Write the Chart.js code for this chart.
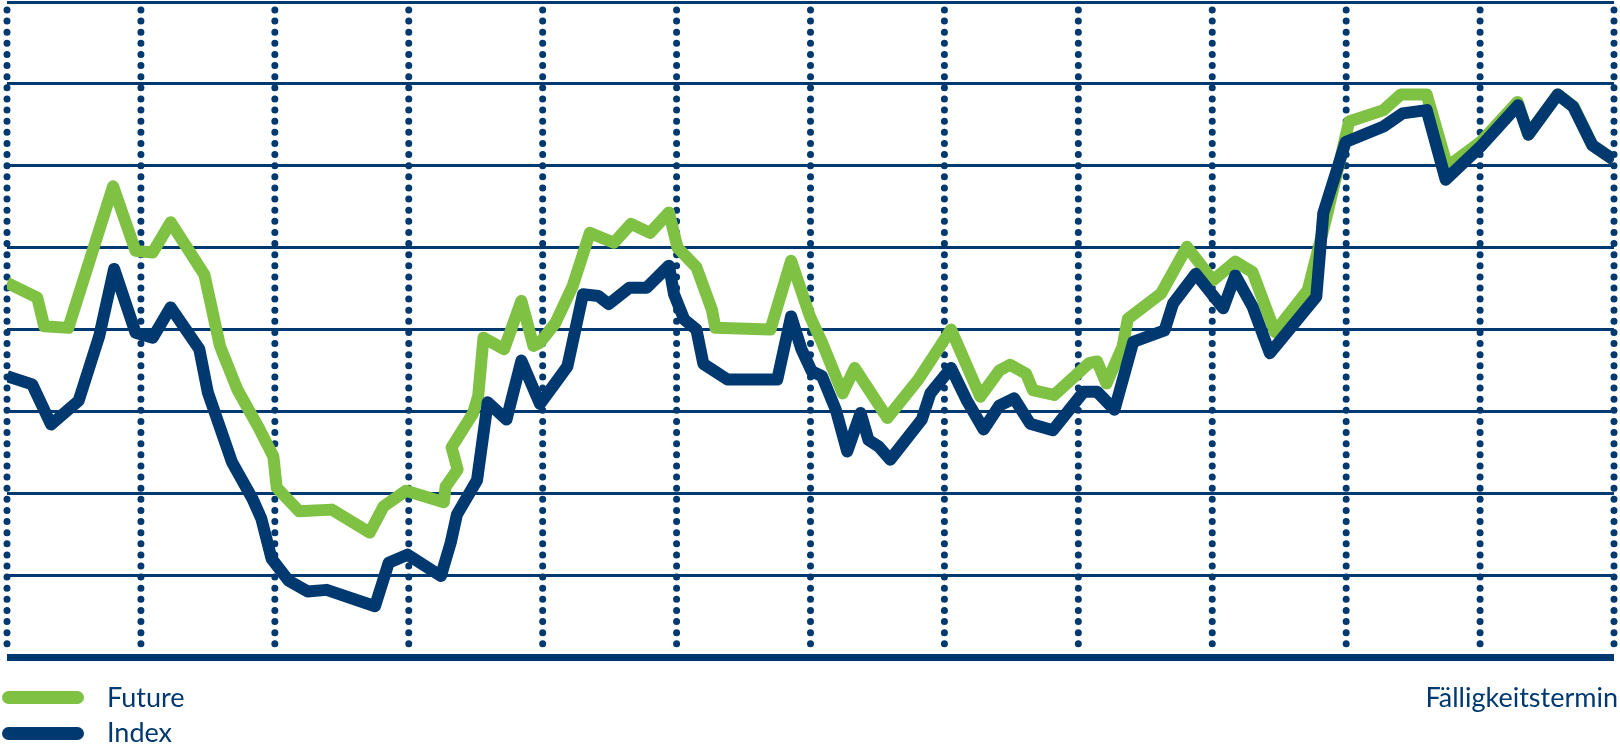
<!DOCTYPE html>
<html lang="de">
<head>
<meta charset="utf-8">
<title>Future / Index</title>
<script src="https://cdn.jsdelivr.net/npm/chart.js@4.4.1/dist/chart.umd.min.js"></script>
<style>
    html, body { margin: 0; padding: 0; background: #fff; overflow: hidden; }
    #wrap { position: relative; width: 1620px; height: 744px; }
    #chart { position: absolute; left: 0; top: 0; }
    .swatch { position: absolute; left: 2px; width: 82px; height: 13px; border-radius: 7px; }
    .label {
        position: absolute; font-family: Lato, "Open Sans", sans-serif; font-size: 27px;
        line-height: 27px; color: #003870; white-space: nowrap;
    }
</style>
</head>
<body>
<div id="wrap">
    <canvas id="chart" width="1620" height="744"></canvas>
    <div class="swatch" style="top:691px; background:#7ec143;"></div>
    <div class="swatch" style="top:727px; background:#003870;"></div>
    <div class="label" id="lblFuture" style="left:107px; top:683px;"></div>
    <div class="label" id="lblIndex" style="left:107px; top:718px;"></div>
    <div class="label" id="lblAxis" style="right:2px; top:683px;"></div>
</div>
<script>
const NAVY = '#003870';
const GREEN = '#7ec143';

// --- DATA (x = periods between dotted lines, y = grid units) ---
const seriesNames = ['Future', 'Index'];
const axisLabel = 'Fälligkeitstermin';

const futureT = [0, 0.226, 0.278, 0.458, 0.792, 0.96, 1.088, 1.222, 1.474, 1.59, 1.719, 1.873, 1.989, 2.014,
    2.182, 2.426, 2.709, 2.812, 2.979, 3.262, 3.275, 3.365, 3.32, 3.481, 3.519, 3.558, 3.712, 3.841, 3.931,
    3.98, 4.095, 4.224, 4.352, 4.532, 4.66, 4.802, 4.943, 5.007, 5.148, 5.264, 5.29, 5.701, 5.855, 5.996,
    6.086, 6.24, 6.33, 6.574, 6.805, 7.049, 7.268, 7.41, 7.49, 7.61, 7.66, 7.82, 8.08, 8.14, 8.21, 8.33, 8.37,
    8.618, 8.811, 9.005, 9.172, 9.301, 9.468, 9.713, 9.854, 10.022, 10.279, 10.408, 10.601, 10.756, 11.01,
    11.28, 11.36, 11.58, 11.70, 11.84, 12];
const futureV = [4.57, 4.39, 4.04, 4.02, 5.75, 4.96, 4.94, 5.31, 4.67, 3.80, 3.27, 2.82, 2.45, 2.07,
    1.78, 1.80, 1.52, 1.84, 2.03, 1.89, 2.08, 2.29, 2.56, 2.98, 3.19, 3.90, 3.76, 4.35, 3.80,
    3.84, 4.08, 4.53, 5.18, 5.06, 5.29, 5.18, 5.43, 5.00, 4.76, 4.24, 4.02, 4.00, 4.84, 4.16,
    3.84, 3.22, 3.53, 2.92, 3.39, 4.00, 3.18, 3.50, 3.57, 3.46, 3.26, 3.20, 3.59, 3.61, 3.34, 3.79, 4.13,
    4.44, 5.01, 4.60, 4.83, 4.70, 3.97, 4.48, 5.38, 6.54, 6.68, 6.87, 6.87, 5.99, 6.30,
    6.78, 6.38, 6.87, 6.72, 6.25, 6.07];

const indexT = [0, 0.188, 0.329, 0.535, 0.689, 0.8, 0.96, 1.088, 1.222, 1.436, 1.5, 1.68, 1.834, 1.899,
    1.976, 2.104, 2.246, 2.387, 2.748, 2.85, 2.99, 3.24, 3.314, 3.36, 3.51, 3.59, 3.73, 3.841, 3.98,
    4.185, 4.301, 4.416, 4.493, 4.647, 4.776, 4.943, 4.981, 5.058, 5.148, 5.2, 5.38, 5.752, 5.855, 5.932,
    6.009, 6.086, 6.189, 6.274, 6.374, 6.433, 6.51, 6.595, 6.831, 6.895, 7.049, 7.165, 7.293, 7.41, 7.52,
    7.64, 7.81, 8.04, 8.14, 8.27, 8.41, 8.644, 8.708, 8.876, 9.082, 9.172, 9.301, 9.43, 9.777, 9.829,
    9.996, 10.279, 10.421, 10.601, 10.743, 11.013, 11.284, 11.361, 11.58, 11.696, 11.838, 12];
const indexV = [3.43, 3.33, 2.84, 3.13, 3.92, 4.74, 3.96, 3.90, 4.27, 3.76, 3.23, 2.38, 1.93, 1.69,
    1.20, 0.93, 0.80, 0.82, 0.62, 1.15, 1.25, 0.99, 1.40, 1.74, 2.16, 3.11, 2.90, 3.62, 3.09,
    3.55, 4.43, 4.41, 4.31, 4.51, 4.51, 4.78, 4.43, 4.12, 4.00, 3.58, 3.39, 3.39, 4.16, 3.76,
    3.49, 3.43, 3.02, 2.51, 2.98, 2.65, 2.57, 2.41, 2.90, 3.22, 3.53, 3.14, 2.78, 3.07, 3.16,
    2.85, 2.77, 3.24, 3.24, 3.02, 3.85, 3.99, 4.32, 4.68, 4.26, 4.66, 4.28, 3.71, 4.40, 5.42,
    6.29, 6.48, 6.64, 6.68, 5.83, 6.25, 6.74, 6.38, 6.87, 6.72, 6.25, 6.07];

function toPoints(xs, ys) {
    return xs.map((x, i) => ({ x: x, y: ys[i] }));
}

// --- DOTTED VERTICAL GRID (round dots, drawn under the lines) ---
const dottedGrid = {
    id: 'dottedGrid',
    beforeDatasetsDraw(chart) {
        const { ctx, chartArea, scales } = chart;
        ctx.save();
        ctx.strokeStyle = NAVY;
        ctx.lineWidth = 7;
        ctx.lineCap = 'round';
        ctx.setLineDash([0, 11.12]);
        scales.x.ticks.forEach(tick => {
            const px = scales.x.getPixelForValue(tick.value);
            ctx.beginPath();
            ctx.moveTo(px, chartArea.top + 8);
            ctx.lineTo(px, chartArea.bottom - 11);
            ctx.stroke();
        });
        ctx.restore();
    }
};

document.getElementById('lblFuture').textContent = seriesNames[0];
document.getElementById('lblIndex').textContent = seriesNames[1];
document.getElementById('lblAxis').textContent = axisLabel;

new Chart(document.getElementById('chart').getContext('2d'), {
    type: 'line',
    data: {
        datasets: [{
            label: seriesNames[0],
            data: toPoints(futureT, futureV),
            borderColor: GREEN,
            borderWidth: 12,
            borderJoinStyle: 'round',
            pointRadius: 0,
            tension: 0,
            order: 1
        }, {
            label: seriesNames[1],
            data: toPoints(indexT, indexV),
            borderColor: NAVY,
            borderWidth: 12,
            borderJoinStyle: 'round',
            pointRadius: 0,
            tension: 0,
            order: 0
        }]
    },
    options: {
        responsive: false,
        animation: false,
        devicePixelRatio: 1,
        layout: { padding: { left: 7, right: 6, top: 2, bottom: 87 } },
        plugins: { legend: { display: false }, tooltip: { enabled: false } },
        scales: {
            x: {
                type: 'linear', min: 0, max: 12,
                ticks: { stepSize: 1, display: false },
                grid: { display: false, drawTicks: false },
                border: { display: false }
            },
            y: {
                min: 0, max: 8,
                ticks: { stepSize: 1, display: false },
                grid: {
                    color: NAVY,
                    lineWidth: ctx => ctx.tick && ctx.tick.value === 0 ? 7 : 3,
                    drawTicks: false
                },
                border: { display: false }
            }
        }
    },
    plugins: [dottedGrid]
});
</script>
</body>
</html>
